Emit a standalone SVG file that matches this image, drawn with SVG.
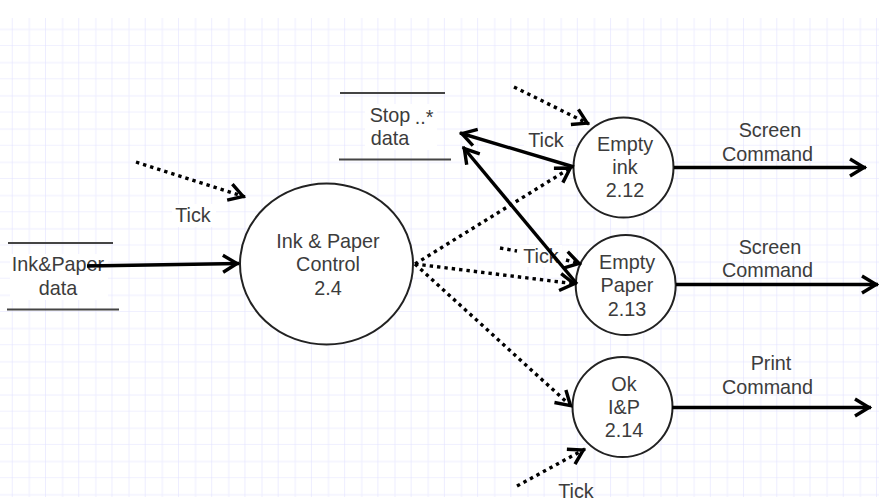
<svg xmlns="http://www.w3.org/2000/svg" width="879" height="502" viewBox="0 0 879 502">
<style>
text{font-family:"Liberation Sans",Arial,sans-serif;font-size:19.8px;fill:#3c3c3c;text-anchor:middle}
.n{fill:#fff;stroke:#222;stroke-width:2}
.bar{stroke:#444;stroke-width:2;fill:none}
.s{stroke:#000;stroke-width:3.4;fill:none}
.d{stroke:#000;stroke-width:3.4;fill:none;stroke-dasharray:3.4 4}
.lb{fill:#fff}
</style>
<defs>
<pattern id="g" width="33.24" height="33.24" patternUnits="userSpaceOnUse" x="-20.5" y="12.8">
<path d="M16.62 0V33.24M0 16.62H33.24" stroke="#eeeeff" stroke-width="1" fill="none"/>
<path d="M33.24 0V33.24M0 33.24H33.24" stroke="#e2e2ff" stroke-width="1.2" fill="none"/>
</pattern>
<marker id="a" markerUnits="userSpaceOnUse" viewBox="-16 -10 18 20" refX="2" refY="0" markerWidth="18" markerHeight="20" orient="auto" overflow="visible">
<path d="M-14 -8.500L0 0L-14 8.500" fill="none" stroke="#000" stroke-width="3.4"/>
</marker>
</defs>
<rect width="879" height="502" fill="#fff"/>
<rect x="0" y="18" width="879" height="479" fill="url(#g)"/>
<g id="store-ink-paper">
<rect class="lb" x="10" y="254" width="98" height="46"/>
<path class="bar" d="M8 243H113M7 309.500H119"/>
<text x="58" y="271">Ink&amp;Paper</text><text x="58" y="295">data</text>
</g>
<g id="store-stop">
<rect class="lb" x="365" y="104" width="72" height="46"/>
<path class="bar" d="M340 93H445M339 159.500H451"/>
<text x="390" y="122">Stop</text><text x="390" y="145">data</text>
<text x="424" y="124">..*</text>
</g>
<g id="node-control">
<ellipse class="n" cx="326.500" cy="264" rx="86.500" ry="80.500"/>
<text x="328" y="248">Ink &amp; Paper</text><text x="328" y="271">Control</text><text x="328" y="295">2.4</text>
</g>
<g id="node-empty-ink">
<circle class="n" cx="623.500" cy="167.500" r="50"/>
<text x="625" y="151">Empty</text><text x="625" y="174">ink</text><text x="625" y="197">2.12</text>
</g>
<g id="node-empty-paper">
<circle class="n" cx="625.700" cy="285" r="50"/>
<text x="627" y="269">Empty</text><text x="627" y="292">Paper</text><text x="627" y="316">2.13</text>
</g>
<g id="node-ok">
<circle class="n" cx="622.500" cy="407" r="50"/>
<text x="624" y="391">Ok</text><text x="624" y="414">I&amp;P</text><text x="624" y="437">2.14</text>
</g>
<g id="labels">
<rect class="lb" x="172" y="204" width="44" height="23"/>
<text x="193" y="222">Tick</text>
<rect class="lb" x="524" y="130" width="44" height="22"/>
<text x="546" y="147">Tick</text>
<rect class="lb" x="520" y="245" width="42" height="22"/>
<text x="541" y="263">Tick</text>
<text x="576" y="498">Tick</text>
<text x="770" y="137">Screen</text><text x="767.500" y="161">Command</text>
<text x="770" y="254">Screen</text><text x="767.500" y="277">Command</text>
<text x="771" y="370">Print</text><text x="767.500" y="394">Command</text>
</g>
<g id="connectors">
<path class="s" d="M87 266L239 263.500" marker-end="url(#a)"/>
<path class="d" d="M136 162L245 197" marker-end="url(#a)"/>
<path class="d" d="M415 264L572 167" marker-end="url(#a)"/>
<path class="d" d="M415 264L576 284" marker-end="url(#a)"/>
<path class="d" d="M415 264L572 407" marker-end="url(#a)"/>
<path class="d" d="M514 87L589 124" marker-end="url(#a)"/>
<path class="d" d="M500 248L517 251M566 260L581 264" marker-end="url(#a)"/>
<path class="d" d="M517 486L585 449" marker-end="url(#a)"/>
<path class="s" d="M574 167L460 133" marker-end="url(#a)"/>
<path class="s" d="M577 284L463 147" marker-end="url(#a)"/>
<path class="s" d="M674 167.500L866 167.500" marker-end="url(#a)"/>
<path class="s" d="M676 284.500L878 284.500" marker-end="url(#a)"/>
<path class="s" d="M672 407.500L871 407.500" marker-end="url(#a)"/>
</g>
</svg>
